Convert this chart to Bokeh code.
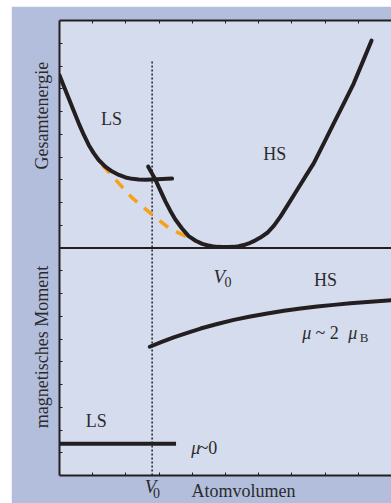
import math
from bokeh.plotting import figure
from bokeh.layouts import row, column
from bokeh.models import Range1d, LinearAxis, FixedTicker, Span, Label, Spacer
from bokeh.embed import file_html
from bokeh.resources import INLINE

# ---- data ----
v0 = 2.79                      # transition volume V0 (dotted line)
dotted_top = 18.25

ls_energy_x = [0.0, 0.14, 0.28, 0.43, 0.58, 0.73, 0.88, 1.03, 1.18, 1.38, 1.59, 1.79, 1.99,
               2.19, 2.39, 2.59, 2.79, 3.09, 3.39]
ls_energy_y = [17.59, 17.08, 16.57, 16.02, 15.48, 14.98, 14.53, 14.17, 13.87, 13.58, 13.36,
               13.21, 13.10, 13.04, 13.01, 13.00, 13.01, 13.03, 13.05]

hs_energy_x = [2.67, 2.78, 2.89, 3.04, 3.19, 3.34, 3.49, 3.69, 3.89, 4.10, 4.30, 4.45, 4.60,
               4.75, 4.90, 5.08, 5.25, 5.40, 5.55, 5.70, 5.85, 6.05, 6.26, 6.46, 6.66, 6.91,
               7.16, 7.41, 7.66, 7.96, 8.26, 8.56, 8.86, 9.13, 9.40]
hs_energy_y = [13.58, 13.29, 13.00, 12.52, 12.05, 11.63, 11.25, 10.86, 10.52, 10.32, 10.18,
               10.12, 10.08, 10.05, 10.04, 10.04, 10.05, 10.08, 10.13, 10.20, 10.30, 10.46,
               10.67, 10.98, 11.39, 11.97, 12.56, 13.15, 13.73, 14.60, 15.48, 16.35, 17.23,
               18.17, 19.12]

tangent_x = [1.29, 1.69, 2.19, 2.79, 3.29, 3.89, 4.10]
tangent_y = [13.65, 13.0, 12.2, 11.47, 10.88, 10.45, 10.30]

hs_moment_x = [2.72, 3.08, 3.44, 3.85, 4.25, 4.75, 5.25, 5.75, 6.26, 6.76, 7.26, 7.76, 8.26,
               8.76, 9.27, 10.0]
hs_moment_y = [5.66, 5.87, 6.07, 6.27, 6.46, 6.66, 6.84, 6.99, 7.12, 7.24, 7.34, 7.43, 7.50,
               7.57, 7.63, 7.70]

ls_moment_x = [0.0, 3.51]
ls_moment_y = [1.40, 1.40]

x_ticks = [1, 2, 3, 4, 5, 6, 7, 8, 9]
y_ticks = [1, 2, 3, 4, 5, 6, 7, 8, 9, 11, 12, 13, 14, 15, 16, 17, 18, 19]
panel_split = 10

y_titles = {15.82: "Gesamtenergie", 5.65: "magnetisches Moment"}
x_title = {5.54: "Atomvolumen"}
x_v0_letter = {2.74: "V"}
x_v0_sub = {2.92: "0"}

# ---- styling ----
OUTER = "#b3bedd"
INNER = "#d5dcee"
INK = "#231f20"
TXT = "#2b2b2b"
ORANGE = "#f7a11a"
SERIF = "Liberation Serif"

p = figure(width=380, height=497, x_range=Range1d(0, 10), y_range=Range1d(0, 20),
           output_backend="svg", toolbar_location=None,
           x_axis_location=None, y_axis_location=None,
           min_border_left=48, min_border_top=14, min_border_bottom=26, min_border_right=0)
p.background_fill_color = INNER
p.border_fill_color = OUTER
p.outline_line_color = None
p.grid.grid_line_color = None


def make_axis(ticks):
    ax = LinearAxis(ticker=FixedTicker(ticks=ticks))
    ax.major_label_overrides = {t: "" for t in ticks}
    ax.major_label_text_font_size = "1px"
    ax.major_label_text_color = None
    ax.major_label_standoff = 0
    ax.major_tick_in = 3
    ax.major_tick_out = 0
    ax.minor_tick_line_color = None
    ax.axis_line_width = 2
    ax.axis_line_color = INK
    ax.major_tick_line_color = INK
    ax.major_tick_line_width = 1
    return ax


def text_axis(labels, size, style="normal", standoff=0, orientation="horizontal"):
    ax = LinearAxis(ticker=FixedTicker(ticks=list(labels.keys())))
    ax.major_label_overrides = labels
    ax.major_label_orientation = orientation
    ax.major_label_text_font = SERIF
    ax.major_label_text_font_size = size
    ax.major_label_text_font_style = style
    ax.major_label_text_color = TXT
    ax.major_label_standoff = standoff
    ax.axis_line_color = None
    ax.major_tick_line_color = None
    ax.minor_tick_line_color = None
    ax.major_tick_in = 0
    ax.major_tick_out = 0
    return ax


p.add_layout(make_axis(y_ticks), "left")
p.add_layout(make_axis(x_ticks), "below")
p.add_layout(make_axis(x_ticks), "above")

p.add_layout(text_axis(y_titles, "18px", standoff=7, orientation="vertical"), "left")
p.add_layout(text_axis(x_v0_letter, "19px", style="italic", standoff=0), "below")
p.add_layout(text_axis(x_title, "18px", standoff=-19), "below")
p.add_layout(text_axis(x_v0_sub, "14px", standoff=-16), "below")

p.add_layout(Span(location=panel_split, dimension="width", line_color=INK, line_width=2))

# dotted V0 line
p.segment(x0=[v0], y0=[0], x1=[v0], y1=[dotted_top], line_color="#222222",
          line_width=1.5, line_dash="2 2")

# common tangent (orange dashed)
p.line(tangent_x, tangent_y, line_color=ORANGE, line_width=3.5, line_dash="11 9")

# energy curves
p.line(ls_energy_x, ls_energy_y, line_color=INK, line_width=4, line_cap="round", line_join="round")
p.line(hs_energy_x, hs_energy_y, line_color=INK, line_width=4, line_cap="round", line_join="round")

# magnetic moment curves
p.line(hs_moment_x, hs_moment_y, line_color=INK, line_width=4, line_cap="round", line_join="round")
p.line(ls_moment_x, ls_moment_y, line_color=INK, line_width=4, line_cap="butt")


def lab(x, y, text, size="18px", style="normal", align="left", baseline="alphabetic"):
    p.add_layout(Label(x=x, y=y, text=text, text_font=SERIF, text_font_size=size,
                       text_font_style=style, text_color=TXT, text_align=align,
                       text_baseline=baseline))


# V0 in the middle
lab(4.64, 8.75, "V", size="19px", style="italic")
lab(4.97, 8.49, "0", size="14px")

# state labels
lab(1.57, 15.67, "LS", align="center", baseline="middle")
lab(6.48, 14.15, "HS", align="center", baseline="middle")
lab(8.01, 8.58, "HS", align="center", baseline="middle")
lab(1.11, 2.41, "LS", align="center", baseline="middle")

# mu ~ 2 mu_B
lab(7.31, 6.26, "\u03bc", style="italic")
lab(7.71, 6.26, "~ 2")
lab(8.70, 6.26, "\u03bc", style="italic")
lab(9.04, 6.07, "B", size="13px")

# mu ~ 0
lab(3.97, 1.23, "\u03bc", style="italic")
lab(4.19, 1.23, "~0")

layout = row(Spacer(width=11, height=503), column(Spacer(width=380, height=6), p))
open("out.html", "w").write(file_html(layout, INLINE))
